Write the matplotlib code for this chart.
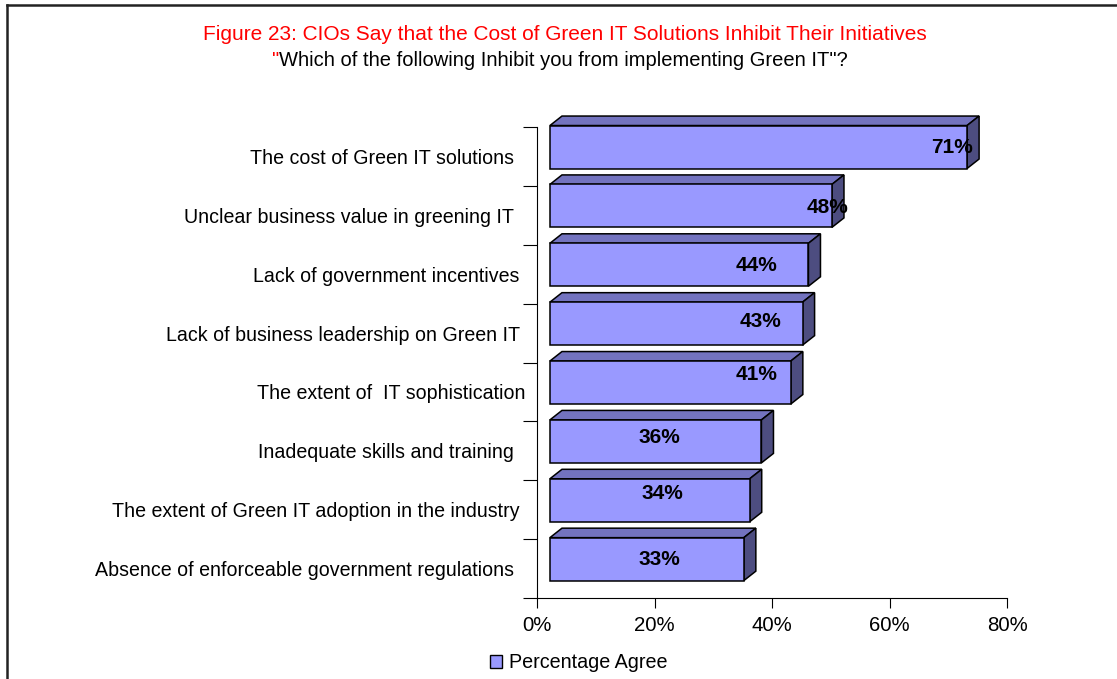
import matplotlib
matplotlib.use("Agg")
import matplotlib.pyplot as plt
from matplotlib.patches import Polygon, Rectangle, Patch
from matplotlib.lines import Line2D

plt.rcParams['font.family'] = ['Liberation Sans', 'DejaVu Sans']

# ---- data ----
categories = [
    "The cost of Green IT solutions  ",
    "Unclear business value in greening IT  ",
    "Lack of government incentives ",
    "Lack of business leadership on Green IT ",
    "The extent of  IT sophistication",
    "Inadequate skills and training  ",
    "The extent of Green IT adoption in the industry ",
    "Absence of enforceable government regulations  ",
]
values = [71, 48, 44, 43, 41, 36, 34, 33]
value_labels = ["71%", "48%", "44%", "43%", "41%", "36%", "34%", "33%"]
xticks = [0, 20, 40, 60, 80]
xtick_labels = ["0%", "20%", "40%", "60%", "80%"]
series_name = "Percentage Agree"
title_line1 = "Figure 23: CIOs Say that the Cost of Green IT Solutions Inhibit Their Initiatives"
title_line2 = "Which of the following Inhibit you from implementing Green IT\"?"

# ---- layout / style ----
FRONT = "#9999FF"
TOP = "#7373BF"
SIDE = "#4D4D80"
FRONT_X = 2.2      # front face left (in % units)
DX, DY = 2.05, 0.161  # 3D depth offset
BAR_BOT, BAR_H = 0.295, 0.73
label_x = [70.6, 49.5, 37.4, 38.0, 37.4, 20.9, 21.3, 20.8]
label_dy = [0.0, -0.02, -0.02, 0.03, 0.14, 0.07, 0.11, 0.0]

fig = plt.figure(figsize=(11.17, 6.79), dpi=100)
ax = fig.add_axes([537/1117, 81/679, 470/1117, 471/679])
n = len(categories)
ax.set_xlim(0, 80)
ax.set_ylim(0, n)

for i, (v, lab) in enumerate(zip(values, value_labels)):
    k = n - 1 - i
    x0, y0, h = FRONT_X, k + BAR_BOT, BAR_H
    top = Polygon([(x0, y0 + h), (x0 + DX, y0 + h + DY), (x0 + v + DX, y0 + h + DY), (x0 + v, y0 + h)],
                  closed=True, facecolor=TOP, edgecolor="black", lw=1.1, clip_on=False, zorder=3)
    side = Polygon([(x0 + v, y0), (x0 + v + DX, y0 + DY), (x0 + v + DX, y0 + h + DY), (x0 + v, y0 + h)],
                   closed=True, facecolor=SIDE, edgecolor="black", lw=1.1, clip_on=False, zorder=3)
    front = Rectangle((x0, y0), v, h, facecolor=FRONT, edgecolor="black", lw=1.1, clip_on=False, zorder=4)
    ax.add_patch(top)
    ax.add_patch(side)
    ax.add_patch(front)
    ax.text(label_x[i], k + 0.66 + label_dy[i], lab, ha="center", va="center",
            fontsize=15, fontweight="bold", color="black", zorder=6)

for s in ["top", "right"]:
    ax.spines[s].set_visible(False)
for s in ["left", "bottom"]:
    ax.spines[s].set_color("black")
    ax.spines[s].set_linewidth(0.8)

ax.set_xticks(xticks)
ax.set_xticklabels(xtick_labels, fontsize=14.7)
ax.tick_params(axis="x", length=7, width=0.8, pad=6, color="black")
ax.set_yticks(range(n + 1))
ax.set_yticklabels([])
ax.tick_params(axis="y", which="major", length=10, width=0.8, color="black")
ax.set_yticks([k + 0.5 for k in range(n)], minor=True)
ax.set_yticklabels(categories[::-1], minor=True, fontsize=14.1)
ax.tick_params(axis="y", which="minor", length=0, pad=8.6)

# titles
fig.text(0.5055, 1 - 35/679, title_line1, ha="center", va="center", fontsize=15, color="#FF0000")
fig.canvas.draw()
r = fig.canvas.get_renderer()
t2 = fig.text(0, 1 - 60/679, title_line2, ha="left", va="center", fontsize=14.5, color="black")
q = fig.text(0, 1 - 60/679, '"', ha="left", va="center", fontsize=14.5, color="#FF0000")
w2 = t2.get_window_extent(r).width / 1117
wq = q.get_window_extent(r).width / 1117
left = 0.5015 - (w2 + wq) / 2
q.set_x(left)
t2.set_x(left + wq)

# legend
fig.legend(handles=[Patch(facecolor=FRONT, edgecolor="black", lw=1.0, label=series_name)],
           loc="center", bbox_to_anchor=(0.518, 1 - 663/679), frameon=False, fontsize=14.2,
           handlelength=0.6, handleheight=0.6, handletextpad=0.35)

# outer frame (cropped on right and bottom)
fig.add_artist(Line2D([6.5/1117, 6.5/1117], [0, 1 - 4.5/679], transform=fig.transFigure, color="#222222", lw=1.8))
fig.add_artist(Line2D([6.5/1117, 1], [1 - 4.5/679, 1 - 4.5/679], transform=fig.transFigure, color="#222222", lw=1.8))

fig.savefig("out.png", dpi=100)
